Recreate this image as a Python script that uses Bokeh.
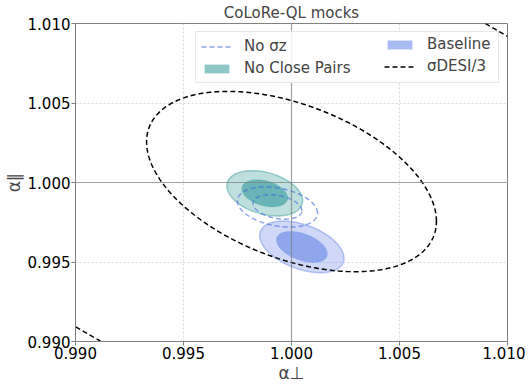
import numpy as np
from bokeh.plotting import figure
from bokeh.models import Range1d, FixedTicker, PrintfTickFormatter, Span, Legend, LegendItem
from bokeh.embed import file_html
from bokeh.resources import INLINE

# ---- data ----
names = ["No σz", "No Close Pairs", "Baseline", "σDESI/3"]
center_x = [0.99935, 0.99876, 1.00048, 1.00000]
center_y = [0.99846, 0.99932, 0.99595, 1.00006]
half_x = [0.00113, 0.00107, 0.00119, 0.00671]   # inner contour half extent in alpha_perp
half_y = [0.00077, 0.00087, 0.00099, 0.00567]   # inner contour half extent in alpha_par
corr = [-0.30, -0.33, -0.44, -0.44]
levels = [[1.0, 1.64], [1.0, 1.64], [1.0, 1.64], [1.0, 2.93]]
ticks = [0.990, 0.995, 1.000, 1.005, 1.010]

TEAL = "#008080"
BLUE = "#4169e1"
FONT = "DejaVu Sans"


def ellipse(i, s, n=300):
    t = np.linspace(0, 2 * np.pi, n)
    r = corr[i]
    x = center_x[i] + s * half_x[i] * np.cos(t)
    y = center_y[i] + s * half_y[i] * (r * np.cos(t) + np.sqrt(1 - r * r) * np.sin(t))
    return x, y


p = figure(frame_width=432, frame_height=318, output_backend="svg", toolbar_location=None,
           x_range=Range1d(0.990, 1.010), y_range=Range1d(0.990, 1.010),
           min_border_left=65, min_border_right=18, min_border_top=10, min_border_bottom=40)

p.title.text = "CoLoRe-QL mocks"
p.title.align = "center"
p.title.text_font = FONT
p.title.text_font_size = "15px"
p.title.text_font_style = "normal"
p.title.standoff = 3
p.title.offset = 0

for ax in (p.xaxis, p.yaxis):
    ax.ticker = FixedTicker(ticks=ticks)
    ax.formatter = PrintfTickFormatter(format="%.3f")
    ax.major_label_text_font = FONT
    ax.major_label_text_font_size = "15px"
    ax.major_label_text_color = "black"
    ax.axis_label_text_font = FONT
    ax.axis_label_text_font_size = "17px"
    ax.axis_label_text_font_style = "normal"
    ax.axis_line_color = "#808080"
    ax.major_tick_line_color = "#808080"
    ax.major_tick_out = 4
    ax.major_tick_in = 0
    ax.minor_tick_line_color = None
    ax.major_label_standoff = 1
    ax.axis_label_standoff = 1
p.xaxis.axis_label = "α⊥"
p.yaxis.axis_label = "α∥"
p.yaxis.major_label_orientation = "horizontal"

p.outline_line_color = "#808080"
p.outline_line_width = 1
p.grid.grid_line_color = "#d0d0d0"
p.grid.grid_line_dash = "2 2"
p.grid.grid_line_alpha = 0.8

# fills
rend = {}
for i in (1, 2):
    col = TEAL if i == 1 else BLUE
    xo, yo = ellipse(i, levels[i][1])
    p.patch(xo, yo, fill_color=col, fill_alpha=0.25, line_color=col, line_alpha=0.35, line_width=1.5)
for i in (1, 2):
    col = TEAL if i == 1 else BLUE
    xi, yi = ellipse(i, levels[i][0])
    rend[i] = p.patch(xi, yi, fill_color=col, fill_alpha=0.45, line_color=None)

# dashed contours
for s in levels[0]:
    x, y = ellipse(0, s)
    r = p.line(x, y, line_color=BLUE, line_alpha=0.6, line_width=1.5, line_dash="5 3")
    rend[0] = r
for s in levels[3]:
    x, y = ellipse(3, s)
    r = p.line(x, y, line_color="black", line_width=1.5, line_dash="5 3")
    rend[3] = r

p.add_layout(Span(location=1.0, dimension="width", line_color="#808080", line_alpha=0.7, line_width=1.2))
p.add_layout(Span(location=1.0, dimension="height", line_color="#808080", line_alpha=0.7, line_width=1.2))


def make_legend(idx, margin, padding):
    lg = Legend(items=[LegendItem(label=names[i], renderers=[rend[i]]) for i in idx],
                location="top_right")
    lg.label_text_font = FONT
    lg.label_text_font_size = "15px"
    lg.glyph_width = 31
    lg.glyph_height = 11
    lg.label_standoff = 12
    lg.label_height = 14
    lg.spacing = 4
    lg.padding = padding
    lg.margin = margin
    return lg


# left column (carries the legend box), right column drawn over it
leg_a = make_legend([0, 1], 8, 5)
leg_a.label_width = 249
leg_a.border_line_color = "#d0d0d0"
leg_a.background_fill_alpha = 0.85
leg_b = make_legend([2, 3], 12, 0)
leg_b.label_width = 68
leg_b.border_line_color = None
leg_b.background_fill_alpha = 0.0
p.add_layout(leg_a)
p.add_layout(leg_b)

open("out.html", "w").write(file_html(p, INLINE))
